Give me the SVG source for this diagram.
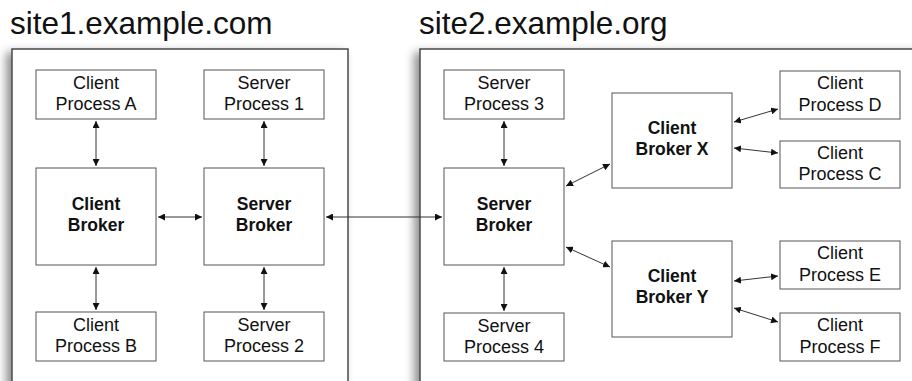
<svg xmlns="http://www.w3.org/2000/svg" width="912" height="381" viewBox="0 0 912 381">
  <style>
    .site { fill: #ffffff; stroke: #4a4a4a; stroke-width: 1.5; filter: url(#shadow); }
    .title { font-family: "Liberation Sans", Helvetica, Arial, sans-serif; font-size: 31.5px; fill: #111; }
    .box { fill: #ffffff; stroke: #555555; stroke-width: 1; }
    .lbl { font-family: "Liberation Sans", Helvetica, Arial, sans-serif; font-size: 18px; fill: #111; text-anchor: middle; }
    .bold { font-weight: bold; font-size: 17.5px; }
    .conn line { stroke: #333333; stroke-width: 1; marker-start: url(#arrow); marker-end: url(#arrow); }
  </style>
  <defs>
    <filter id="shadow" x="-10%" y="-10%" width="120%" height="130%">
      <feDropShadow dx="-5" dy="4" stdDeviation="5" flood-color="#000" flood-opacity="0.45"/>
    </filter>
    <marker id="arrow" viewBox="0 0 7 7" markerWidth="7" markerHeight="7" refX="7" refY="3.5" markerUnits="userSpaceOnUse" orient="auto-start-reverse">
      <path d="M0,0 L7,3.5 L0,7 z" fill="#111"/>
    </marker>
  </defs>

  <rect width="912" height="381" fill="#ffffff"/>

  <!-- host containers -->
  <g id="site1">
    <rect class="site" x="12" y="49" width="336" height="360"/>
    <text class="title" x="10" y="34">site1.example.com</text>
  </g>
  <g id="site2">
    <rect class="site" x="420" y="49" width="520" height="360"/>
    <text class="title" x="419" y="34">site2.example.org</text>
  </g>

  <!-- connectors -->
  <g class="conn" id="connectors">
    <line x1="96" y1="121" x2="96" y2="166"/>
    <line x1="264" y1="121" x2="264" y2="166"/>
    <line x1="96" y1="267" x2="96" y2="310"/>
    <line x1="264" y1="267" x2="264" y2="310"/>
    <line x1="158" y1="217" x2="202" y2="217"/>
    <line x1="326" y1="217" x2="442" y2="217"/>
    <line x1="504" y1="121" x2="504" y2="166"/>
    <line x1="504" y1="267" x2="504" y2="311"/>
    <line x1="566" y1="186" x2="610" y2="164"/>
    <line x1="734" y1="122" x2="778" y2="109"/>
    <line x1="734" y1="148" x2="778" y2="153"/>
    <line x1="566" y1="247" x2="610" y2="267"/>
    <line x1="734" y1="281" x2="778" y2="276"/>
    <line x1="734" y1="308" x2="778" y2="322"/>
  </g>

  <!-- site1 nodes -->
  <g id="client-process-a">
    <rect class="box" x="36" y="70" width="120" height="49"/>
    <text class="lbl" x="96" y="89">Client</text>
    <text class="lbl" x="96" y="110">Process A</text>
  </g>
  <g id="server-process-1">
    <rect class="box" x="204" y="70" width="120" height="49"/>
    <text class="lbl" x="264" y="89">Server</text>
    <text class="lbl" x="264" y="110">Process 1</text>
  </g>
  <g id="client-broker">
    <rect class="box" x="36" y="168" width="120" height="97"/>
    <text class="lbl bold" x="96" y="210">Client</text>
    <text class="lbl bold" x="96" y="231">Broker</text>
  </g>
  <g id="server-broker-1">
    <rect class="box" x="204" y="168" width="120" height="97"/>
    <text class="lbl bold" x="264" y="210">Server</text>
    <text class="lbl bold" x="264" y="231">Broker</text>
  </g>
  <g id="client-process-b">
    <rect class="box" x="36" y="312" width="120" height="49"/>
    <text class="lbl" x="96" y="331">Client</text>
    <text class="lbl" x="96" y="352">Process B</text>
  </g>
  <g id="server-process-2">
    <rect class="box" x="204" y="312" width="120" height="49"/>
    <text class="lbl" x="264" y="331">Server</text>
    <text class="lbl" x="264" y="352">Process 2</text>
  </g>

  <!-- site2 nodes -->
  <g id="server-process-3">
    <rect class="box" x="444" y="70" width="120" height="49"/>
    <text class="lbl" x="504" y="89">Server</text>
    <text class="lbl" x="504" y="110">Process 3</text>
  </g>
  <g id="server-broker-2">
    <rect class="box" x="444" y="168" width="120" height="97"/>
    <text class="lbl bold" x="504" y="210">Server</text>
    <text class="lbl bold" x="504" y="231">Broker</text>
  </g>
  <g id="server-process-4">
    <rect class="box" x="444" y="313" width="120" height="48"/>
    <text class="lbl" x="504" y="332">Server</text>
    <text class="lbl" x="504" y="353">Process 4</text>
  </g>
  <g id="client-broker-x">
    <rect class="box" x="612" y="93" width="120" height="95"/>
    <text class="lbl bold" x="672" y="134">Client</text>
    <text class="lbl bold" x="672" y="155">Broker X</text>
  </g>
  <g id="client-process-d">
    <rect class="box" x="780" y="71" width="120" height="48"/>
    <text class="lbl" x="840" y="89">Client</text>
    <text class="lbl" x="840" y="111">Process D</text>
  </g>
  <g id="client-process-c">
    <rect class="box" x="780" y="141" width="120" height="47"/>
    <text class="lbl" x="840" y="159">Client</text>
    <text class="lbl" x="840" y="180">Process C</text>
  </g>
  <g id="client-broker-y">
    <rect class="box" x="612" y="241" width="120" height="96"/>
    <text class="lbl bold" x="672" y="282">Client</text>
    <text class="lbl bold" x="672" y="303">Broker Y</text>
  </g>
  <g id="client-process-e">
    <rect class="box" x="780" y="241" width="120" height="48"/>
    <text class="lbl" x="840" y="259">Client</text>
    <text class="lbl" x="840" y="281">Process E</text>
  </g>
  <g id="client-process-f">
    <rect class="box" x="780" y="313" width="120" height="48"/>
    <text class="lbl" x="840" y="331">Client</text>
    <text class="lbl" x="840" y="353">Process F</text>
  </g>
</svg>
